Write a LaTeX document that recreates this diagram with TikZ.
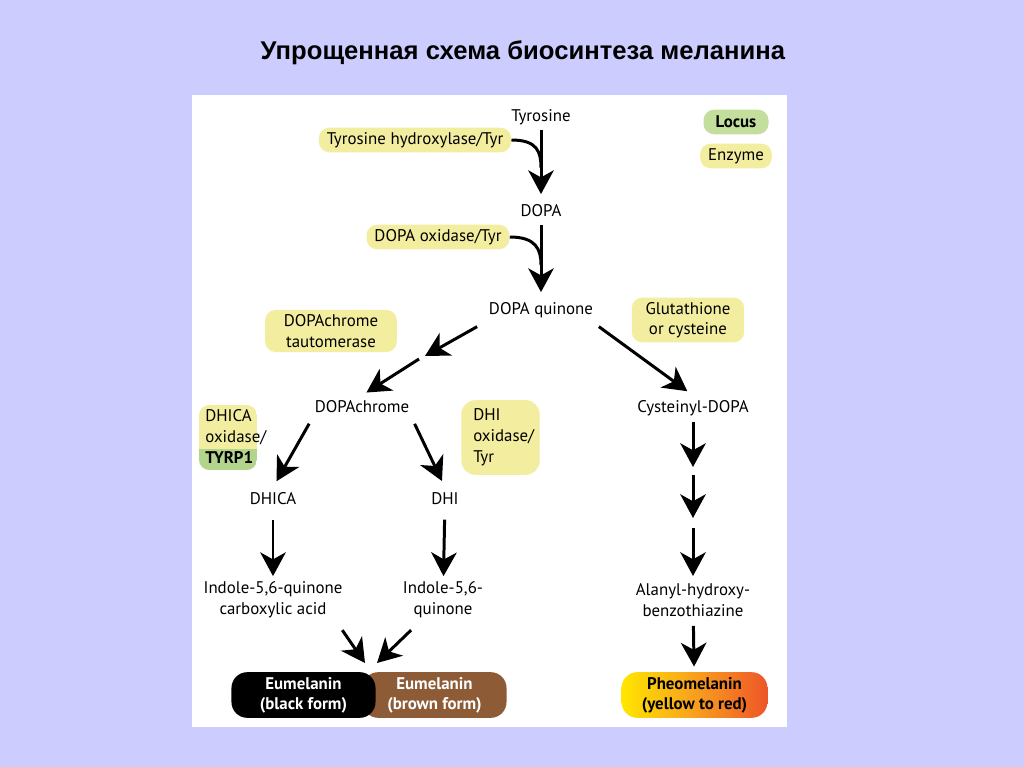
\documentclass[tikz,border=0pt]{standalone}
\usepackage{fontspec}
\setmainfont{PT Sans}
\newfontfamily\titlefont{Liberation Sans}
\usetikzlibrary{arrows.meta,calc}

\definecolor{bglav}{RGB}{204,204,255}
\definecolor{enzyellow}{RGB}{243,237,160}
\definecolor{locgreen}{RGB}{196,222,157}
\definecolor{tyrpgreen}{RGB}{178,212,140}
\definecolor{eubrown}{RGB}{141,92,55}
\definecolor{pheoyellow}{RGB}{255,230,0}
\definecolor{pheoorange}{RGB}{248,160,30}
\definecolor{pheored}{RGB}{238,85,40}

\tikzset{
  enzyme/.style={fill=enzyellow, rounded corners=6pt, inner xsep=4.5pt, inner ysep=1pt,
    minimum height=14pt, font=\fontsize{9.6}{11.5}\selectfont},
  locus/.style={enzyme, fill=locgreen, font=\fontsize{9.6}{11.5}\selectfont\bfseries},
  compound/.style={font=\fontsize{9.6}{11.5}\selectfont, inner sep=2pt, text height=1.55ex, text depth=.45ex},
  product/.style={font=\fontsize{9.6}{12}\selectfont, align=center, inner sep=2pt},
  pigment/.style={rounded corners=9pt, minimum width=82pt, minimum height=26pt, inner sep=0pt,
    align=center, font=\fontsize{9.6}{11.3}\selectfont\bfseries},
  reaction/.style={line width=1.7pt, -{Stealth[length=13.5pt,width=14.5pt,inset=4pt]}},
  plain/.style={line width=1.7pt},
}

\begin{document}
\begin{tikzpicture}[x=0.02cm,y=-0.02cm]
\useasboundingbox (0,0) rectangle (1024,767);
\fill[bglav] (0,0) rectangle (1024,767);
\fill[white] (192,95) rectangle (787,727);

\node[font=\titlefont\bfseries\fontsize{14.6}{16}\selectfont] (title) at (523,53)
  {Упрощенная схема биосинтеза меланина};

% Legend
\node[locus, minimum width=37pt] (legloc) at (736,122) {Locus};
\node[enzyme, minimum width=37pt] (legenz) at (736,156) {Enzyme};

% Tyrosine -> DOPA -> DOPA quinone
\node[compound] (tyr) at (541,117) {Tyrosine};
\node[compound] (dopa) at (541,212) {DOPA};
\node[compound] (dq) at (541,310) {DOPA quinone};
\node[enzyme] (th) at (415,140) {Tyrosine hydroxylase/Tyr};
\node[enzyme] (dox) at (438,237) {DOPA oxidase/Tyr};

\draw[reaction, shorten >=3pt] (tyr) -- (dopa);
\draw[plain] (th.east) .. controls +(26,0) and +(0,-16) .. ($(th.east -| tyr)+(0,28)$);
\draw[reaction, shorten >=3pt] (dopa) -- (dq);
\draw[plain] (dox.east) .. controls +(26,0) and +(0,-16) .. ($(dox.east -| dopa)+(0,28)$);

% Eumelanin branch
\node[enzyme, align=center, minimum width=75pt, minimum height=24pt] (dct) at (331,331)
  {DOPAchrome\\tautomerase};
\node[compound] (dchr) at (362,408) {DOPAchrome};
\coordinate (tauto) at (425,356);
\draw[reaction] ($(dq.south west)+(-8,4)$) -- (tauto);
\draw[reaction, shorten >=3pt] ($(tauto)+(-6,3)$) -- (dchr.north);

\node[compound] (dhica) at (273,500) {DHICA};
\node[compound] (dhi) at (445,500) {DHI};
\draw[reaction, shorten <=2pt, shorten >=4pt] (dchr.south west) -- (dhica.north);
\draw[reaction, shorten <=2pt, shorten >=4pt] (dchr.south east) -- (dhi.north);

\begin{scope}
  \clip[rounded corners=6pt] (199,405) rectangle (257,470);
  \fill[enzyellow] (199,405) rectangle (257,470);
  \fill[tyrpgreen] (199,449) rectangle (257,470);
\end{scope}
\node[anchor=north west, align=left, inner sep=0pt, font=\fontsize{9.6}{12}\selectfont] (dhicaox)
  at (205,409) {DHICA\\oxidase/\\\textbf{TYRP1}};
\node[enzyme, rounded corners=8pt, align=left, text width=31pt, inner xsep=6.8pt,
  minimum height=42.5pt, font=\fontsize{9.6}{12}\selectfont] (dhiox) at (500.5,437.5)
  {DHI\\oxidase/\\Tyr};

\node[product] (icq) at (273,600) {Indole-5,6-quinone\\carboxylic acid};
\node[product] (iq) at (443,600) {Indole-5,6-\\quinone};
\draw[reaction, shorten <=4pt, shorten >=1pt] (dhica) -- (icq);
\draw[reaction, shorten <=4pt, shorten >=1pt] (dhi) -- (iq);

\node[pigment, fill=eubrown, text=white] (eubrn) at (434.5,695) {Eumelanin\\(brown form)};
\node[pigment, fill=black, text=white] (eublk) at (303.5,695) {Eumelanin\\(black form)};
\coordinate (blackin) at (365,663);
\coordinate (brownin) at (377,663);
\draw[reaction] ($(icq.south east)+(-4,8)$) -- (blackin);
\draw[reaction] ($(iq.south west)+(12,8)$) -- (brownin);

% Pheomelanin branch
\node[enzyme, align=center, minimum width=64pt, minimum height=25.5pt] (glu) at (688,320)
  {Glutathione\\or cysteine};
\node[compound] (cd) at (693,408) {Cysteinyl-DOPA};
\draw[reaction, shorten >=4pt] ($(dq.south east)+(2,4)$) -- (cd.north);

\node[product] (ahb) at (693,600) {Alanyl-hydroxy-\\benzothiazine};
\coordinate (cs1) at (693,467);
\coordinate (cs2) at (693,518);
\draw[reaction, shorten <=1pt] (cd) -- (cs1);
\draw[reaction] ($(cs1)+(0,8)$) -- (cs2);
\draw[reaction, shorten >=2pt] ($(cs2)+(0,10)$) -- (ahb);

\node[pigment, minimum width=83pt, left color=pheoyellow, right color=pheored,
  middle color=pheoorange] (pheo) at (694.5,695) {Pheomelanin\\(yellow to red)};
\draw[reaction, shorten <=3pt, shorten >=3pt] (ahb) -- (pheo);
\end{tikzpicture}
\end{document}
